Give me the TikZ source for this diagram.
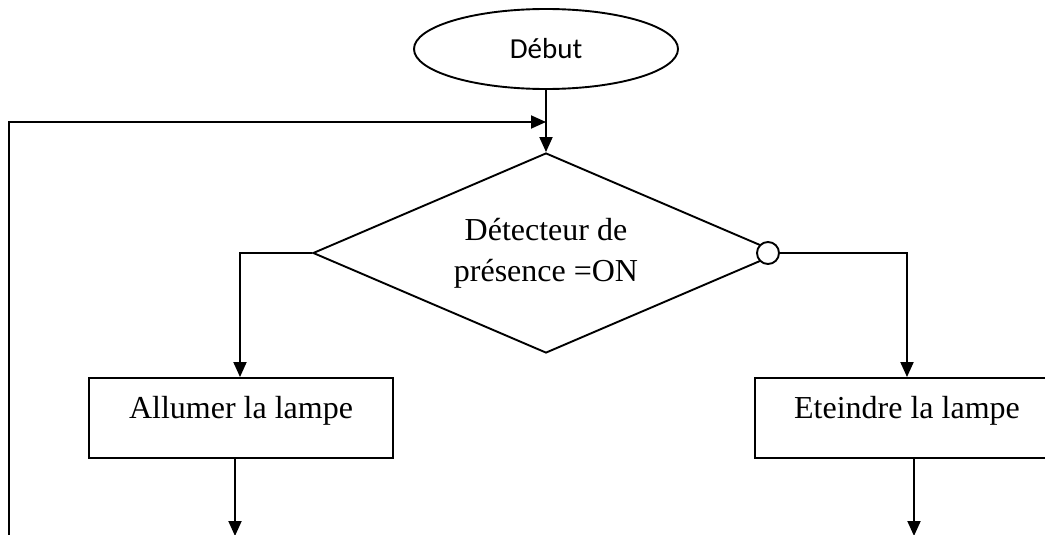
\documentclass[tikz,border=0pt]{standalone}
\usepackage{fontspec}
\setmainfont{Liberation Serif}
\newfontfamily\calibrifont{Carlito}
\usetikzlibrary{shapes.geometric,arrows.meta}
\begin{document}
\begin{tikzpicture}[x=1pt,y=-1pt,line width=1.9pt,
  arr/.style={-{Triangle[length=15pt,width=13pt]}},
  startnode/.style={ellipse,draw,minimum width=264pt,minimum height=80pt,inner sep=0pt,
    font=\calibrifont\fontsize{29}{35}\selectfont},
  decision/.style={diamond,draw,minimum width=466pt,minimum height=200pt,inner sep=0pt,
    aspect=2.33,align=center,font=\fontsize{32}{41}\selectfont},
  action/.style={rectangle,draw,minimum width=304pt,minimum height=80pt,inner sep=0pt,
    font=\fontsize{32}{38}\selectfont,text height=16pt,text depth=16pt},
  negdot/.style={circle,draw,fill=white,minimum size=22pt,inner sep=0pt}]
\useasboundingbox (0,0) rectangle (1045,535);
\fill[white] (0,0) rectangle (1045,535);
\clip (0,0) rectangle (1045,535);

\node[startnode] (debut) at (546,49) {Début};
\node[decision] (test) at (546,253) {Détecteur de\\présence =ON};
\node[negdot] (neg) at (768,253) {};
\node[action] (allumer) at (241,418) {Allumer la lampe};
\node[action] (eteindre) at (907,418) {Eteindre la lampe};

\coordinate (join) at (546,122);
\coordinate (loopstart) at (9,540);
\coordinate (endA) at (235,536);
\coordinate (endB) at (914,536);

\draw[arr] (debut.south) -- (test.north);
\draw[arr] (loopstart) -- (loopstart |- join) -- (join);
\draw[arr] (test.west) -- (240,253) -- (allumer.north -| 240,0);
\draw[arr] (neg.east) -- (eteindre.north |- neg.east) -- (eteindre.north);
\draw[arr] (allumer.south -| endA) -- (endA);
\draw[arr] (eteindre.south -| endB) -- (endB);
\end{tikzpicture}
\end{document}
